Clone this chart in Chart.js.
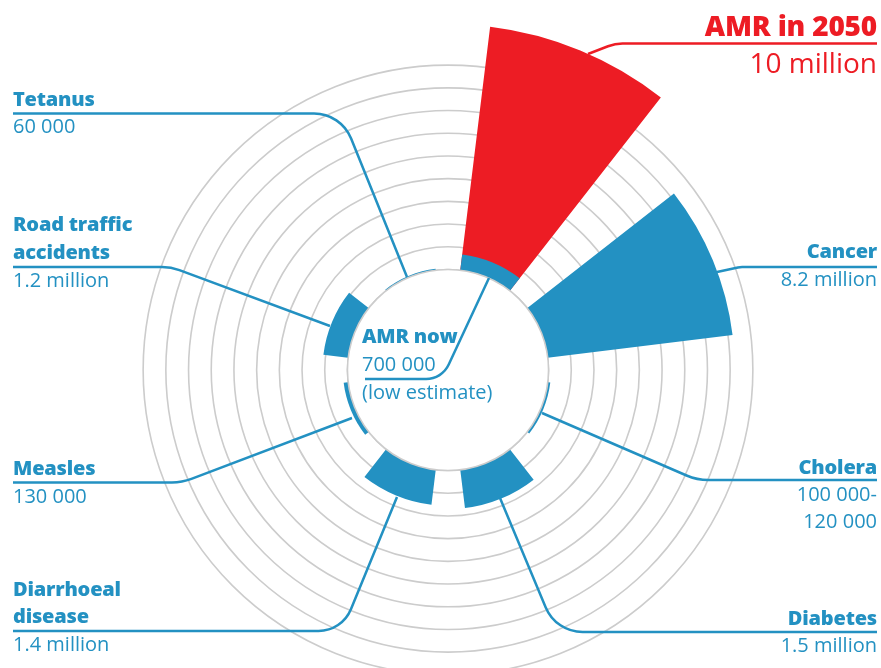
<!DOCTYPE html>
<html>
<head>
<meta charset="utf-8">
<script src="https://cdn.jsdelivr.net/npm/chart.js@4.4.1/dist/chart.umd.min.js"></script>
<style>
  html, body { margin: 0; padding: 0; background: #fff; overflow: hidden; }
  #wrap { position: relative; width: 881px; height: 668px; }
  #chart { position: absolute; left: 0; top: 0; }
  .lbl { position: absolute; font-family: 'Open Sans', sans-serif; line-height: 1; white-space: nowrap; color: #2391c2; font-size: 20px; }
  .b { font-weight: 800; letter-spacing: -0.2px; }
  .red { color: #ed1c24; font-size: 28px; }
</style>
</head>
<body>
<div id="wrap"><canvas id="chart" width="881" height="668"></canvas></div>
<script>
// causes of death per year, clockwise from the top
var causes = ['AMR in 2050', 'Cancer', 'Cholera', 'Diabetes', 'Diarrhoeal disease', 'Measles', 'Road traffic accidents', 'Tetanus'];
// millions (one ring = 1 million)
var deaths = [10.8, 8.2, 0.11, 1.7, 1.55, 0.2, 1.1, 0.06];
var amrNow = 0.7;
var ringTicks = [0, 1, 2, 3, 4, 5, 6, 7, 8, 9];

var BLUE = '#2391c2', RED = '#ed1c24', GRID = '#cccccc';
var wedgeDeg = 31, gapDeg = 14;

// every cause gets a wedge followed by an empty gap slot
var labels = [], mainData = [], mainColors = [], nowData = [], nowColors = [];
causes.forEach(function (c, i) {
  labels.push(c, '');
  mainData.push(deaths[i], 0);
  mainColors.push(i === 0 ? RED : BLUE, 'transparent');
  nowData.push(i === 0 ? amrNow : 0, 0);
  nowColors.push(i === 0 ? BLUE : 'transparent', 'transparent');
});
var slotAngle = function (ctx) { return ctx.dataIndex % 2 ? gapDeg : wedgeDeg; };

// label text: [text, x, baseline, align, bold, red]
var texts = [
  ['AMR in 2050', 877, 36, 'right', 1, 1],
  ['10 million', 877, 73, 'right', 0, 1],
  ['Cancer', 877, 259, 'right', 1, 0],
  ['8.2 million', 877, 287, 'right', 0, 0],
  ['Cholera', 877, 475, 'right', 1, 0],
  ['100 000-', 877, 502, 'right', 0, 0],
  ['120 000', 877, 529, 'right', 0, 0],
  ['Diabetes', 877, 626, 'right', 1, 0],
  ['1.5 million', 877, 653, 'right', 0, 0],
  ['Tetanus', 13, 107, 'left', 1, 0],
  ['60 000', 13, 134, 'left', 0, 0],
  ['Road traffic', 13, 232, 'left', 1, 0],
  ['accidents', 13, 260, 'left', 1, 0],
  ['1.2 million', 13, 288, 'left', 0, 0],
  ['Measles', 13, 476, 'left', 1, 0],
  ['130 000', 13, 504, 'left', 0, 0],
  ['Diarrhoeal', 13, 597, 'left', 1, 0],
  ['disease', 13, 624, 'left', 1, 0],
  ['1.4 million', 13, 652, 'left', 0, 0],
  ['AMR now', 362, 344, 'left', 1, 0],
  ['700 000', 362, 372, 'left', 0, 0],
  ['(low estimate)', 362, 400, 'left', 0, 0]
];

// leader lines: points, corner radius, colour
var leaders = [
  [[[877, 43.5], [615, 43.5], [588, 54]], 40, RED],
  [[[877, 267], [740, 267], [717, 272]], 20, BLUE],
  [[[877, 480], [697, 480], [542, 413]], 55, BLUE],
  [[[877, 632], [556, 632], [500, 498]], 40, BLUE],
  [[[13, 113.5], [341, 113.5], [407, 277]], 40, BLUE],
  [[[13, 267], [171, 267], [330, 326]], 50, BLUE],
  [[[13, 482.5], [182, 482.5], [352, 418]], 55, BLUE],
  [[[13, 631], [342, 631], [397, 497]], 35, BLUE],
  [[[365, 379], [442, 379], [489, 278]], 25, BLUE]
];

var wrap = document.getElementById('wrap');
texts.forEach(function (t) {
  var d = document.createElement('div');
  var size = t[5] ? 28 : 20;
  d.className = 'lbl' + (t[4] ? ' b' : '') + (t[5] ? ' red' : '');
  d.textContent = t[0];
  d.style.top = (t[2] - 0.888 * size) + 'px';
  if (t[3] === 'right') d.style.right = (881 - t[1]) + 'px';
  else d.style.left = t[1] + 'px';
  wrap.appendChild(d);
});

var overlay = {
  id: 'overlay',
  afterDatasetsDraw: function (chart) {
    var r = chart.scales.r, ctx = chart.ctx;
    var hole = r.getDistanceFromCenterForValue(0);
    ctx.save();
    ctx.beginPath();
    ctx.arc(r.xCenter, r.yCenter, hole, 0, Math.PI * 2);
    ctx.fillStyle = '#fff';
    ctx.fill();
    ctx.lineWidth = 1.6;
    ctx.strokeStyle = GRID;
    ctx.stroke();

    ctx.lineWidth = 2.5;
    ctx.lineCap = 'butt';
    leaders.forEach(function (l) {
      var p = l[0];
      ctx.beginPath();
      ctx.moveTo(p[0][0], p[0][1]);
      for (var i = 1; i < p.length - 1; i++) {
        ctx.arcTo(p[i][0], p[i][1], p[i + 1][0], p[i + 1][1], l[1]);
      }
      ctx.lineTo(p[p.length - 1][0], p[p.length - 1][1]);
      ctx.strokeStyle = l[2];
      ctx.stroke();
    });
    ctx.restore();
  }
};

var ctx = document.getElementById('chart').getContext('2d');
new Chart(ctx, {
  type: 'polarArea',
  data: {
    labels: labels,
    datasets: [
      { label: 'AMR now', data: nowData, backgroundColor: nowColors, borderWidth: 0, angle: slotAngle },
      { label: 'Deaths per year', data: mainData, backgroundColor: mainColors, borderWidth: 0, angle: slotAngle }
    ]
  },
  options: {
    responsive: false,
    animation: false,
    devicePixelRatio: 1,
    plugins: { legend: { display: false }, tooltip: { enabled: false } },
    scales: {
      r: {
        min: -4.43,
        max: 11,
        startAngle: 7,
        ticks: { display: false, stepSize: 1 },
        angleLines: { display: false },
        pointLabels: { display: false },
        grid: {
          circular: true,
          lineWidth: 1.6,
          color: function (c) { return ringTicks.indexOf(c.tick.value) >= 0 ? GRID : 'transparent'; }
        },
        // place the rings: centre of the rose, 22.7 px per million
        afterFit: function (scale) {
          scale.xCenter = 448;
          scale.yCenter = 370;
          scale.drawingArea = (scale.max - scale.min) * 22.7;
        }
      }
    }
  },
  plugins: [overlay]
});
</script>
</body>
</html>
